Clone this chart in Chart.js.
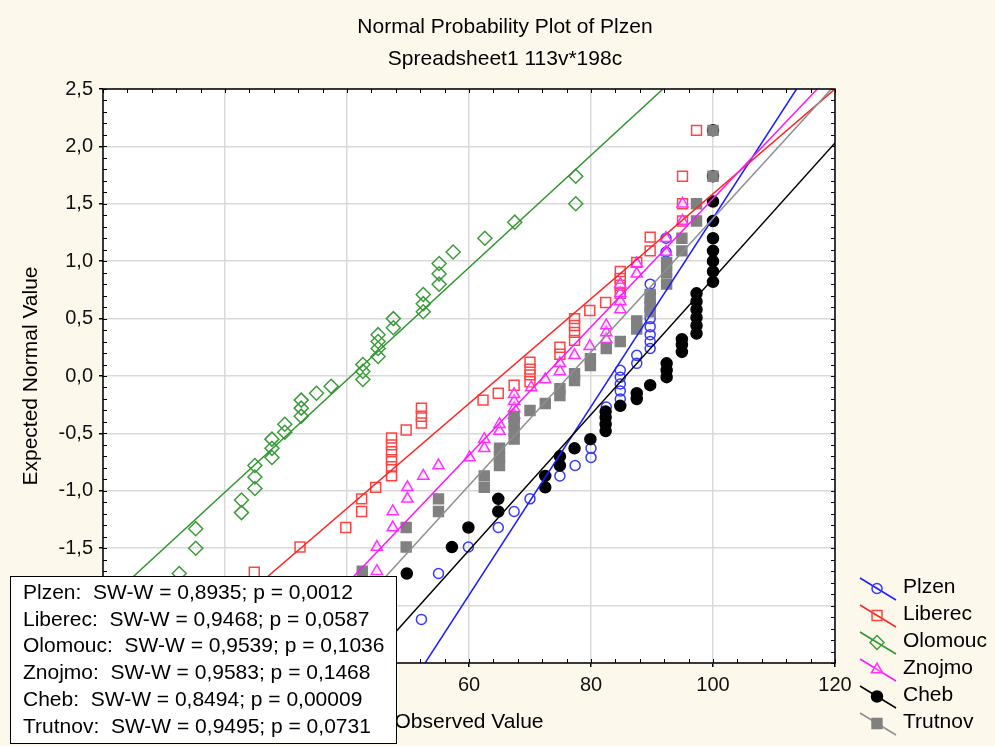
<!DOCTYPE html>
<html>
<head>
<meta charset="utf-8">
<script src="https://cdn.jsdelivr.net/npm/chart.js@4.4.0/dist/chart.umd.min.js"></script>
<style>
  html, body { margin: 0; padding: 0; background: #fdf8ec; }
</style>
</head>
<body>
<canvas id="chart" width="995" height="746"></canvas>
<script>
// Titles
const chartTitle = 'Normal Probability Plot of Plzen';
const chartSubtitle = 'Spreadsheet1 113v*198c';
const xTitle = 'Observed Value';
const yTitle = 'Expected Normal Value';

// Series names and Shapiro-Wilk results
const seriesNames = ['Plzen', 'Liberec', 'Olomouc', 'Znojmo', 'Cheb', 'Trutnov'];
const swTexts = [
    'SW-W = 0,8935; p = 0,0012',
    'SW-W = 0,9468; p = 0,0587',
    'SW-W = 0,9539; p = 0,1036',
    'SW-W = 0,9583; p = 0,1468',
    'SW-W = 0,8494; p = 0,00009',
    'SW-W = 0,9495; p = 0,0731'
];

// Axis ranges
const xMin = 0, xMax = 120, xStep = 20;
const yMin = -2.5, yMax = 2.5, yStep = 0.5;

// Observed value / expected normal value pairs
const plzenPts = [
    [52.2,-2.12],[55.0,-1.72],[59.9,-1.49],[64.8,-1.32],[67.4,-1.18],[70.0,-1.07],
    [74.9,-0.87],[77.4,-0.78],[80.0,-0.71],[80.0,-0.63],[82.5,-0.27],
    [84.8,-0.20],[84.8,-0.13],[84.8,-0.07],[84.8,-0.01],[84.8,0.05],
    [87.5,0.11],[87.5,0.18],[89.7,0.24],[89.7,0.30],[89.7,0.36],[89.7,0.43],
    [89.7,0.50],[89.7,0.57],[89.7,0.64],[89.7,0.72],[89.7,0.80],[92.3,1.08],[92.3,1.20]
];
const liberecPts = [
    [24.8,-1.71],[32.3,-1.49],[39.8,-1.32],[42.4,-1.18],[42.4,-1.07],[44.7,-0.97],
    [47.3,-0.87],[47.3,-0.79],[47.3,-0.73],[47.3,-0.66],[47.3,-0.60],[47.3,-0.54],
    [49.7,-0.47],[52.2,-0.41],[52.2,-0.35],[52.2,-0.28],[62.3,-0.21],[64.8,-0.15],
    [67.4,-0.08],[70.0,-0.05],[70.0,0.01],[70.0,0.06],[70.0,0.12],[74.9,0.19],
    [74.9,0.25],[77.3,0.31],[77.3,0.38],[77.3,0.44],[77.3,0.50],[79.8,0.57],
    [82.4,0.64],[84.8,0.72],[84.8,0.79],[84.8,0.85],[84.8,0.91],[87.5,0.99],
    [89.7,1.09],[89.7,1.21],[95.0,1.35],[95.0,1.50],[95.0,1.74],[97.3,2.14]
];
const olomoucPts = [
    [12.5,-1.72],[15.2,-1.50],[15.2,-1.33],[22.7,-1.19],[22.7,-1.08],[24.9,-0.98],
    [24.9,-0.88],[24.9,-0.78],[27.7,-0.71],[27.7,-0.63],[27.7,-0.55],[29.8,-0.49],
    [29.8,-0.42],[32.5,-0.35],[32.5,-0.28],[32.5,-0.21],[35.0,-0.15],[37.4,-0.09],
    [42.6,-0.03],[42.6,0.04],[42.6,0.10],[45.1,0.17],[45.1,0.24],[45.1,0.30],
    [45.1,0.36],[47.6,0.42],[47.6,0.50],[52.5,0.56],[52.5,0.63],[52.5,0.71],
    [55.1,0.80],[55.1,0.89],[55.1,0.98],[57.4,1.08],[62.6,1.20],[67.5,1.34],
    [77.5,1.50],[77.5,1.74]
];
const znojmoPts = [
    [44.9,-1.70],[44.9,-1.49],[47.5,-1.32],[47.5,-1.18],[49.9,-1.07],[49.9,-0.97],
    [52.5,-0.87],[55.0,-0.78],[60.1,-0.71],[62.5,-0.63],[62.5,-0.55],[65.0,-0.48],
    [65.0,-0.42],[67.4,-0.34],[67.4,-0.28],[67.4,-0.22],[67.4,-0.16],[70.2,-0.10],
    [72.5,-0.03],[74.9,0.04],[74.9,0.11],[77.3,0.18],[79.8,0.26],[82.5,0.32],
    [82.5,0.38],[82.5,0.44],[84.8,0.58],[84.8,0.65],[84.8,0.72],[84.8,0.80],
    [87.5,0.89],[87.5,0.98],[92.3,1.08],[92.3,1.20],[95.0,1.35],[95.0,1.50]
];
const chebPts = [
    [49.8,-1.72],[57.2,-1.49],[59.9,-1.32],[64.8,-1.18],[64.8,-1.07],[72.5,-0.97],
    [72.5,-0.87],[74.9,-0.78],[74.9,-0.70],[77.3,-0.63],[79.9,-0.55],[82.4,-0.48],
    [82.4,-0.42],[82.4,-0.36],[82.4,-0.31],[84.8,-0.26],[87.5,-0.20],[87.5,-0.15],
    [89.7,-0.08],[92.4,-0.01],[92.4,0.05],[92.4,0.11],[94.9,0.21],[94.9,0.27],
    [94.9,0.32],[97.3,0.37],[97.3,0.44],[97.3,0.51],[97.3,0.58],[97.3,0.65],
    [97.3,0.72],[100,0.82],[100,0.91],[100,1.00],[100,1.09],[100,1.20],[100,1.35],
    [100,1.52],[100,1.74],[100,2.14]
];
const trutnovPts = [
    [42.5,-1.70],[49.7,-1.49],[49.7,-1.32],[55.0,-1.18],[55.0,-1.07],[62.5,-0.97],
    [62.5,-0.87],[65.0,-0.78],[65.0,-0.71],[65.0,-0.63],[67.4,-0.55],[67.4,-0.48],
    [67.4,-0.42],[67.4,-0.36],[70.0,-0.30],[72.5,-0.24],[74.9,-0.17],[74.9,-0.11],
    [77.3,-0.04],[77.3,0.02],[79.9,0.09],[79.9,0.15],[82.5,0.24],[84.8,0.30],
    [87.5,0.41],[87.5,0.48],[89.7,0.56],[89.7,0.63],[89.7,0.71],[92.4,0.80],
    [92.4,0.90],[92.4,0.99],[94.9,1.09],[94.9,1.20],[97.3,1.35],[97.3,1.50],
    [100,1.74],[100,2.14]
];

// Fitted normal lines: where each line meets the plot border
const plzenLine = [[52.8,-2.5],[113.7,2.5]];
const liberecLine = [[10.5,-2.5],[120,2.5]];
const olomoucLine = [[0,-1.99],[91.8,2.5]];
const znojmoLine = [[27.6,-2.5],[117.1,2.5]];
const chebLine = [[43.4,-2.5],[120,2.03]];
const trutnovLine = [[33.4,-2.5],[119.4,2.5]];

const allPts = [plzenPts, liberecPts, olomoucPts, znojmoPts, chebPts, trutnovPts];
const allLines = [plzenLine, liberecLine, olomoucLine, znojmoLine, chebLine, trutnovLine];

// Styles per series
const lineColors = ['#1e1eff', '#ff2424', '#2e962e', '#ff14ff', '#000000', '#8f8f8f'];
const markerColors = ['#3a3aff', '#ff4444', '#3c9c3c', '#ff33ff', '#000000', '#808080'];
const markerFills = ['rgba(0,0,0,0)', 'rgba(0,0,0,0)', 'rgba(0,0,0,0)', 'rgba(255,200,255,0.35)', '#000000', '#808080'];
const markerStyles = ['circle', 'rect', 'rectRot', 'triangle', 'circle', 'rect'];
const markerSizes = [5, 7, 7, 6.5, 5.5, 7];

const FONT = '"Liberation Sans", Arial, sans-serif';
const toXY = arr => arr.map(p => ({ x: p[0], y: p[1] }));

const datasets = [];
seriesNames.forEach((name, i) => {
    datasets.push({
        label: name,
        data: toXY(allPts[i]),
        showLine: false,
        pointStyle: markerStyles[i],
        pointRadius: markerSizes[i],
        pointBorderWidth: 1.5,
        pointBorderColor: markerColors[i],
        pointBackgroundColor: markerFills[i],
        order: 20 - i
    });
});
seriesNames.forEach((name, i) => {
    datasets.push({
        label: name + ' line',
        data: toXY(allLines[i]),
        showLine: true,
        pointRadius: 0,
        borderColor: lineColors[i],
        borderWidth: 1.5,
        order: 10 - i
    });
});

// Background, frame, titles, legend and statistics box
const decor = {
    id: 'decor',
    beforeDraw(chart) {
        const { ctx, chartArea: a } = chart;
        ctx.save();
        ctx.fillStyle = '#fdf8ec';
        ctx.fillRect(0, 0, chart.width, chart.height);
        ctx.fillStyle = '#ffffff';
        ctx.fillRect(a.left, a.top, a.right - a.left, a.bottom - a.top);
        ctx.restore();
    },
    afterDraw(chart) {
        const { ctx, chartArea: a } = chart;
        const xs = chart.scales.x, ys = chart.scales.y;
        ctx.save();

        // minor ticks inside the frame
        ctx.strokeStyle = '#000';
        ctx.lineWidth = 1;
        ctx.beginPath();
        for (let v = yMin; v <= yMax + 1e-9; v += 0.1) {
            const py = Math.round(ys.getPixelForValue(v)) + 0.5;
            ctx.moveTo(a.left, py); ctx.lineTo(a.left + 4, py);
            ctx.moveTo(a.right - 4, py); ctx.lineTo(a.right, py);
        }
        for (let v = xMin; v <= xMax + 1e-9; v += 4) {
            const px = Math.round(xs.getPixelForValue(v)) + 0.5;
            ctx.moveTo(px, a.top); ctx.lineTo(px, a.top + 4);
            ctx.moveTo(px, a.bottom - 4); ctx.lineTo(px, a.bottom);
        }
        ctx.stroke();

        // frame
        ctx.lineWidth = 1.5;
        ctx.strokeRect(a.left, a.top, a.right - a.left, a.bottom - a.top);

        // titles
        ctx.fillStyle = '#000';
        ctx.textAlign = 'center';
        ctx.textBaseline = 'middle';
        ctx.font = '21px ' + FONT;
        ctx.fillText(chartTitle, 505, 27);
        ctx.fillText(chartSubtitle, 505, 59);
        ctx.fillText(xTitle, (a.left + a.right) / 2, 722);
        ctx.save();
        ctx.translate(31, (a.top + a.bottom) / 2);
        ctx.rotate(-Math.PI / 2);
        ctx.fillText(yTitle, 0, 0);
        ctx.restore();

        // legend
        ctx.textAlign = 'left';
        ctx.font = '21px ' + FONT;
        seriesNames.forEach((name, i) => {
            const c = 587 + 27 * i;
            ctx.strokeStyle = lineColors[i];
            ctx.lineWidth = 1.5;
            ctx.beginPath();
            ctx.moveTo(860, c - 9);
            ctx.lineTo(896, c + 13);
            ctx.stroke();
            ctx.strokeStyle = markerColors[i];
            ctx.fillStyle = markerFills[i];
            ctx.lineWidth = 1.5;
            Chart.helpers.drawPoint(ctx, {
                pointStyle: markerStyles[i],
                radius: markerSizes[i],
                rotation: 0,
                borderWidth: 1.5
            }, 877, c + 1.5);
            ctx.fillStyle = '#000';
            ctx.fillText(name, 903, c);
        });

        // Shapiro-Wilk box
        ctx.fillStyle = '#fff';
        ctx.fillRect(10, 576, 386, 167);
        ctx.strokeStyle = '#000';
        ctx.lineWidth = 1;
        ctx.strokeRect(10.5, 576.5, 386, 167);
        ctx.fillStyle = '#000';
        ctx.font = '21px ' + FONT;
        seriesNames.forEach((name, i) => {
            ctx.fillText(name + ':  ' + swTexts[i], 23, 593 + 26.8 * i);
        });

        ctx.restore();
    }
};

const tickFont = { family: FONT, size: 20 };

new Chart(document.getElementById('chart'), {
    type: 'scatter',
    data: { datasets },
    options: {
        responsive: false,
        animation: false,
        layout: { padding: { top: 89, right: 160, left: 0, bottom: 0 } },
        plugins: {
            legend: { display: false },
            tooltip: { enabled: false }
        },
        scales: {
            x: {
                type: 'linear',
                min: xMin,
                max: xMax,
                ticks: { stepSize: xStep, font: tickFont, color: '#111', padding: 6 },
                grid: { color: '#d9d9d9', lineWidth: 1.5, tickLength: 4, tickColor: '#000' },
                border: { display: false },
                afterFit: s => { s.height = 83; }
            },
            y: {
                type: 'linear',
                min: yMin,
                max: yMax,
                ticks: {
                    stepSize: yStep,
                    font: tickFont,
                    color: '#111',
                    padding: 6,
                    callback: v => v.toFixed(1).replace('.', ',')
                },
                grid: { color: '#d9d9d9', lineWidth: 1.5, tickLength: 4, tickColor: '#000' },
                border: { display: false },
                afterFit: s => { s.width = 103; }
            }
        }
    },
    plugins: [decor]
});
</script>
</body>
</html>
